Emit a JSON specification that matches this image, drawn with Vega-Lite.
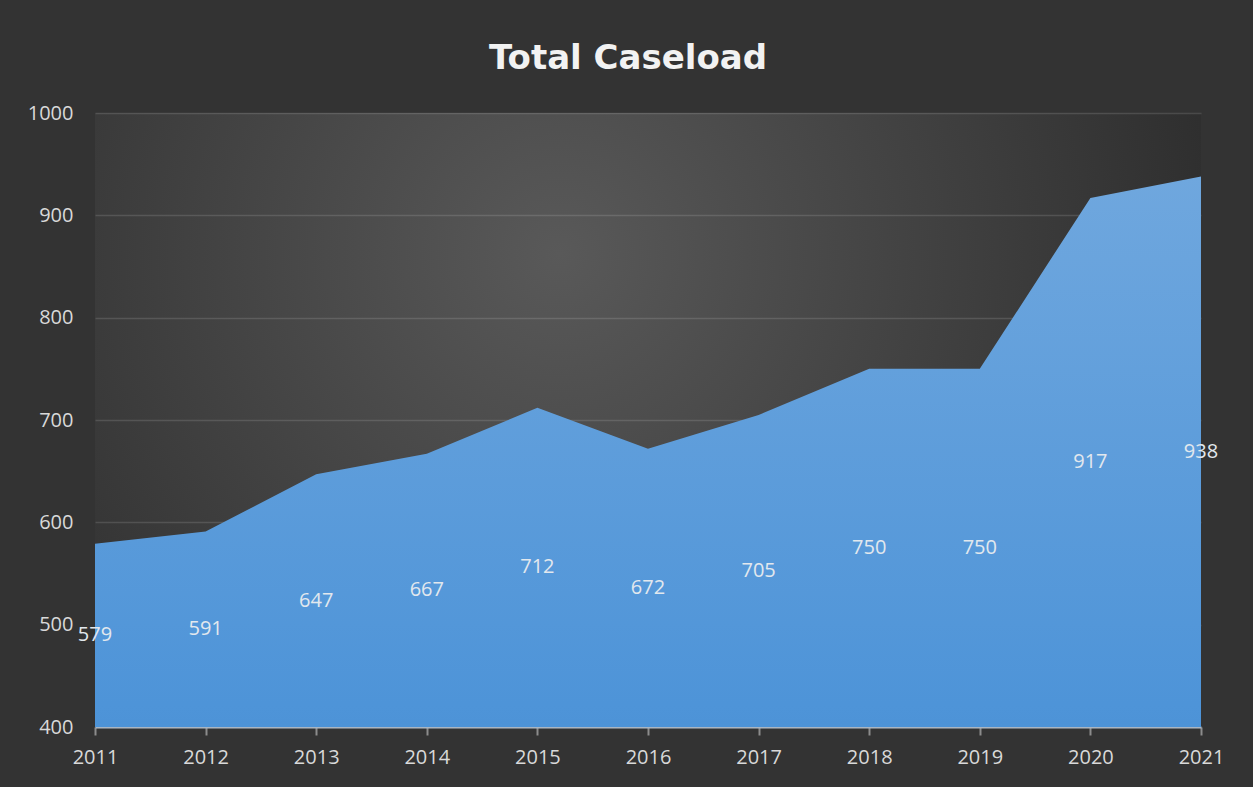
{
  "$schema": "https://vega.github.io/schema/vega-lite/v6.json",
  "width": 1106,
  "height": 614,
  "autosize": {"type": "none"},
  "padding": {"left": 95, "top": 113, "right": 52, "bottom": 60},
  "background": "#333333",
  "title": {
    "text": "Total Caseload",
    "font": "DejaVu Sans",
    "fontSize": 34,
    "fontWeight": "bold",
    "color": "#f2f2f2",
    "anchor": "middle",
    "dx": -20,
    "baseline": "alphabetic",
    "offset": 0
  },
  "data": {
    "values": [
      {"year": 2011, "caseload": 579},
      {"year": 2012, "caseload": 591},
      {"year": 2013, "caseload": 647},
      {"year": 2014, "caseload": 667},
      {"year": 2015, "caseload": 712},
      {"year": 2016, "caseload": 672},
      {"year": 2017, "caseload": 705},
      {"year": 2018, "caseload": 750},
      {"year": 2019, "caseload": 750},
      {"year": 2020, "caseload": 917},
      {"year": 2021, "caseload": 938}
    ]
  },
  "layer": [
    {
      "mark": {
        "type": "area",
        "clip": true,
        "color": {
          "gradient": "linear",
          "x1": 0, "y1": 0, "x2": 0, "y2": 1,
          "stops": [
            {"offset": 0, "color": "#6fa7de"},
            {"offset": 0.55, "color": "#4e94d8"},
            {"offset": 1, "color": "#3a7fc2"}
          ]
        }
      },
      "encoding": {
        "x": {
          "field": "year",
          "type": "quantitative",
          "scale": {"domain": [2011, 2021], "nice": false, "zero": false},
          "axis": {
            "title": null,
            "values": [2011, 2012, 2013, 2014, 2015, 2016, 2017, 2018, 2019, 2020, 2021],
            "format": "d",
            "grid": false,
            "domainColor": "#a9b6c3",
            "domainWidth": 2,
            "tickColor": "#8c8c8c",
            "tickWidth": 2,
            "tickSize": 8,
            "labelPadding": 12,
            "labelFont": "Open Sans",
            "labelFontSize": 20,
            "labelColor": "#d9d9d9",
            "labelFlush": false
          }
        },
        "y": {
          "field": "caseload",
          "type": "quantitative",
          "scale": {"domain": [400, 1000], "nice": false, "zero": false},
          "axis": {
            "title": null,
            "values": [400, 500, 600, 700, 800, 900, 1000],
            "format": "d",
            "domain": false,
            "ticks": false,
            "gridColor": "#ffffff",
            "gridOpacity": 0.13,
            "gridWidth": 1.5,
            "labelPadding": 22,
            "labelFont": "Open Sans",
            "labelFontSize": 20,
            "labelColor": "#d9d9d9"
          }
        }
      }
    },
    {
      "mark": {
        "type": "text",
        "font": "Open Sans",
        "fontSize": 20,
        "color": "#e2e8ee",
        "baseline": "middle",
        "align": "center"
      },
      "encoding": {
        "x": {"field": "year", "type": "quantitative"},
        "y": {
          "field": "caseload",
          "type": "quantitative",
          "scale": {"domain": [400, 1600], "nice": false, "zero": false},
          "axis": null
        },
        "text": {"field": "caseload", "type": "quantitative"}
      }
    }
  ],
  "resolve": {"scale": {"y": "independent"}},
  "config": {
    "view": {
      "stroke": null,
      "fill": {"expr": "{gradient: 'radial', x1: 0.42, y1: 0.35, r1: 0, x2: 0.42, y2: 0.35, r2: 0.62, stops: [{offset: 0, color: '#595959'}, {offset: 1, color: '#2d2d2d'}]}"}
    }
  }
}
